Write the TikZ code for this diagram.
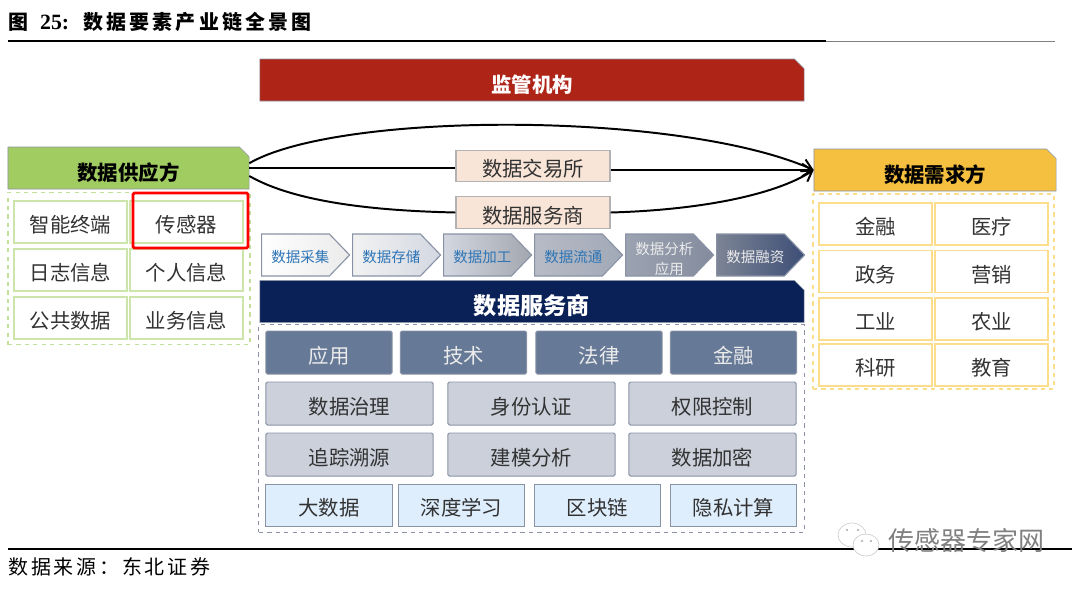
\documentclass[tikz,border=0pt]{standalone}
\usepackage{fontspec}
\setmainfont{Noto Sans CJK SC}
\newfontfamily\titlefont[LetterSpace=16]{Noto Sans CJK SC}
\newfontfamily\sourcefont[LetterSpace=14]{Noto Sans CJK SC}
\newfontfamily\numfont{Liberation Serif}
\definecolor{chred}{RGB}{174,36,23}
\definecolor{chgreen}{RGB}{161,204,98}
\definecolor{chyellow}{RGB}{245,192,64}
\definecolor{chnavy}{RGB}{10,33,88}
\definecolor{chslate}{RGB}{102,121,151}
\definecolor{chgrey}{RGB}{203,208,219}
\definecolor{chsky}{RGB}{223,238,253}
\definecolor{chpeach}{RGB}{248,229,216}
\definecolor{chedge}{RGB}{138,147,165}
\definecolor{chblue}{RGB}{46,117,182}
\definecolor{chtext}{RGB}{50,50,50}
\definecolor{chlgreen}{RGB}{205,228,170}
\definecolor{chlyellow}{RGB}{251,221,140}
\usetikzlibrary{arrows.meta,positioning,shapes.misc,shapes.symbols,shapes.geometric}

\begin{document}
\begin{tikzpicture}[x=0.025cm, y=-0.025cm,
  hbox/.style={chamfered rectangle, chamfered rectangle corners=north east,
               chamfered rectangle xsep=0.12cm, chamfered rectangle ysep=0.12cm,
               draw=chedge, inner sep=0pt, font=\fontsize{14.5}{17}\selectfont\bfseries,
               text height=18pt, text depth=0pt, align=center},
  gcell/.style={rectangle, draw=chlgreen, line width=0.9pt, inner sep=0pt,
                minimum width=2.825cm, minimum height=1.05cm, text height=15pt, text depth=0pt,
                font=\fontsize{14.5}{17}\selectfont, text=chtext},
  ycell/.style={gcell, draw=chlyellow},
  tbox/.style={rectangle, draw=chedge, line width=0.7pt, inner sep=0pt, text height=15pt, text depth=0pt,
               minimum height=1.075cm, font=\fontsize{14.5}{17}\selectfont, text=chtext},
  sbox/.style={tbox, fill=chslate, minimum width=3.15cm, text=white!92!black, rounded corners=1pt},
  mbox/.style={tbox, fill=chgrey, minimum width=4.175cm, rounded corners=1pt},
  lbox/.style={tbox, fill=chsky, minimum width=3.15cm, minimum height=1.05cm},
  pbox/.style={rectangle, draw=black!30, line width=0.8pt, fill=chpeach, inner sep=0pt,
               minimum width=3.85cm, minimum height=0.79cm, text height=15.5pt, text depth=0pt,
               font=\fontsize{14.5}{17}\selectfont, text=chtext},
  cbox/.style={signal, signal to=east, signal pointer angle=92, draw=chedge, line width=0.8pt,
               anchor=west, inner sep=0pt, minimum width=2.2cm, minimum height=1.05cm,
               text height=10.6pt, text depth=0pt, execute at begin node=\hspace*{7pt},
               font=\fontsize{10.3}{15}\selectfont, align=center, text=chblue},
  dbox/.style={rectangle, dashed, inner sep=0pt},
  farr/.style={-{Straight Barb[length=7pt,width=9pt]}, line width=1.4pt},
  fline/.style={line width=1.4pt}
]
\useasboundingbox (0,0) rectangle (1080,588);

% Title and rules
\node[anchor=west, inner sep=0pt, font=\fontsize{14.2}{17}\selectfont\bfseries\titlefont] (title) at (8,22)
  {图\hspace{8.5pt}{\numfont\fontsize{15.5}{17}\selectfont 25:}\hspace{10pt}数据要素产业链全景图};
\node[anchor=west, inner sep=0pt, font=\fontsize{14.2}{17}\selectfont\sourcefont] (source) at (8,567) {数据来源：东北证券};
\coordinate (ruleA) at (8,41);
\coordinate (ruleB) at (826,41);
\coordinate (ruleC) at (1055,41);
\coordinate (ruleD) at (8,549);
\coordinate (ruleE) at (1072,549);
\draw[line width=1pt] (ruleA) -- (ruleB);
\draw[line width=0.6pt, draw=black!50] (ruleB) -- (ruleC);
\draw[line width=0.8pt] (ruleD) -- (ruleE);

% Headers
\node[hbox, fill=chred, text=white, minimum width=13.6cm, minimum height=1.05cm] (reg) at (532,80) {监管机构};
\node[hbox, fill=chgreen, text=black, minimum width=6.025cm, minimum height=1.05cm] (supply) at (128.5,168) {数据供应方};
\node[hbox, fill=chyellow, text=black, minimum width=6.05cm, minimum height=1.05cm] (demand) at (935,170) {数据需求方};
\node[hbox, fill=chnavy, text=white, minimum width=13.6cm, minimum height=1.05cm, text height=19pt,
      font=\fontsize{16.5}{19}\selectfont\bfseries] (serv) at (532,301.5) {数据服务商};

% Dashed frames
\node[dbox, draw=chlgreen!80!chgreen, line width=1pt, minimum width=6.05cm, minimum height=3.8cm] (supplyf) at (129,268.5) {};
\node[dbox, draw=chlyellow, line width=1pt, minimum width=6.025cm, minimum height=4.875cm] (demandf) at (933.5,291.5) {};
\node[dbox, draw=chedge, line width=0.7pt, minimum width=13.625cm, minimum height=5.175cm] (servf) at (531.5,428.5) {};

% Supply cells
\node[gcell] (s1) at (70.5,222) {智能终端};
\node[gcell] (s2) at (186.5,222) {传感器};
\node[gcell] (s3) at (70.5,270) {日志信息};
\node[gcell] (s4) at (186.5,270) {个人信息};
\node[gcell] (s5) at (70.5,318) {公共数据};
\node[gcell] (s6) at (186.5,318) {业务信息};
\node[rectangle, draw=red, line width=2pt, rounded corners=1pt, inner sep=0pt,
      minimum width=2.875cm, minimum height=1.375cm] (mark) at (190.5,220.5) {};

% Demand cells
\node[ycell] (d1) at (875.5,224) {金融};
\node[ycell] (d2) at (991.5,224) {医疗};
\node[ycell] (d3) at (875.5,271.5) {政务};
\node[ycell] (d4) at (991.5,271.5) {营销};
\node[ycell] (d5) at (875.5,319) {工业};
\node[ycell] (d6) at (991.5,319) {农业};
\node[ycell] (d7) at (875.5,365) {科研};
\node[ycell] (d8) at (991.5,365) {教育};

% Middle boxes
\node[pbox] (exch) at (533,166) {数据交易所};
\node[pbox] (agent) at (533,212.5) {数据服务商};

% Chain
\node[cbox, left color=white, right color=black!8] (c1) at (261,255) {数据采集};
\node[cbox, left color=black!5, right color=chgrey!85] (c2) at (352,255) {数据存储};
\node[cbox, left color=chgrey!85, right color=chgrey!80!black] (c3) at (443,255) {数据加工};
\node[cbox, left color=chgrey!90!black, right color=chedge!80] (c4) at (534,255) {数据流通};
\node[cbox, left color=chedge!85, right color=chedge!95!black, text=black!8,
      text height=, text depth=, font=\fontsize{10.3}{14}\selectfont] (c5) at (625,255) {\rule{0pt}{14pt}数据分析\\\hspace*{7pt}应用};
\node[cbox, left color=chedge!90!black, right color=chnavy!60!chedge, text=black!8] (c6) at (716,255) {数据融资};

% Service tiles
\node[sbox] (t1) at (329,352.5) {应用};
\node[sbox] (t2) at (463.5,352.5) {技术};
\node[sbox] (t3) at (599,352.5) {法律};
\node[sbox] (t4) at (733.5,352.5) {金融};
\node[mbox] (m1) at (349.5,403.5) {数据治理};
\node[mbox] (m2) at (531.5,403.5) {身份认证};
\node[mbox] (m3) at (712.5,403.5) {权限控制};
\node[mbox] (m4) at (349.5,454.5) {追踪溯源};
\node[mbox] (m5) at (531.5,454.5) {建模分析};
\node[mbox] (m6) at (712.5,454.5) {数据加密};
\node[lbox] (l1) at (329,505) {大数据};
\node[lbox] (l2) at (461.5,505) {深度学习};
\node[lbox] (l3) at (597.5,505) {区块链};
\node[lbox] (l4) at (733.5,505) {隐私计算};

% Arrows
\draw[farr] ([yshift=0.12cm]supply.east) .. controls (340,111) and (680,111) .. (demand.west);
\draw[fline] (supply.east) -- (supply.east -| exch.west);
\draw[farr] (exch.east |- demand.west) -- (demand.west);
\draw[fline] ([yshift=-0.2cm]supply.east) .. controls (300,205) and (390,211) .. (agent.west);
\draw[farr] (agent.east) .. controls (700,210) and (775,195) .. (demand.west);

% Watermark
\node[ellipse, draw=black!22, fill=white, inner sep=0pt, minimum width=0.7cm, minimum height=0.6cm] (wx1) at (852,535) {};
\node[ellipse, draw=black!22, fill=white, inner sep=0pt, minimum width=0.65cm, minimum height=0.55cm] (wx2) at (866,545) {};
\fill[black!35] (847,530) circle (0.03cm) (858,530) circle (0.03cm) (862,541) circle (0.03cm) (871,541) circle (0.03cm);
\node[anchor=west, inner sep=0pt, text=black!50, font=\fontsize{18.5}{22}\selectfont] (mark2) at (888,541) {传感器专家网};
\end{tikzpicture}
\end{document}
